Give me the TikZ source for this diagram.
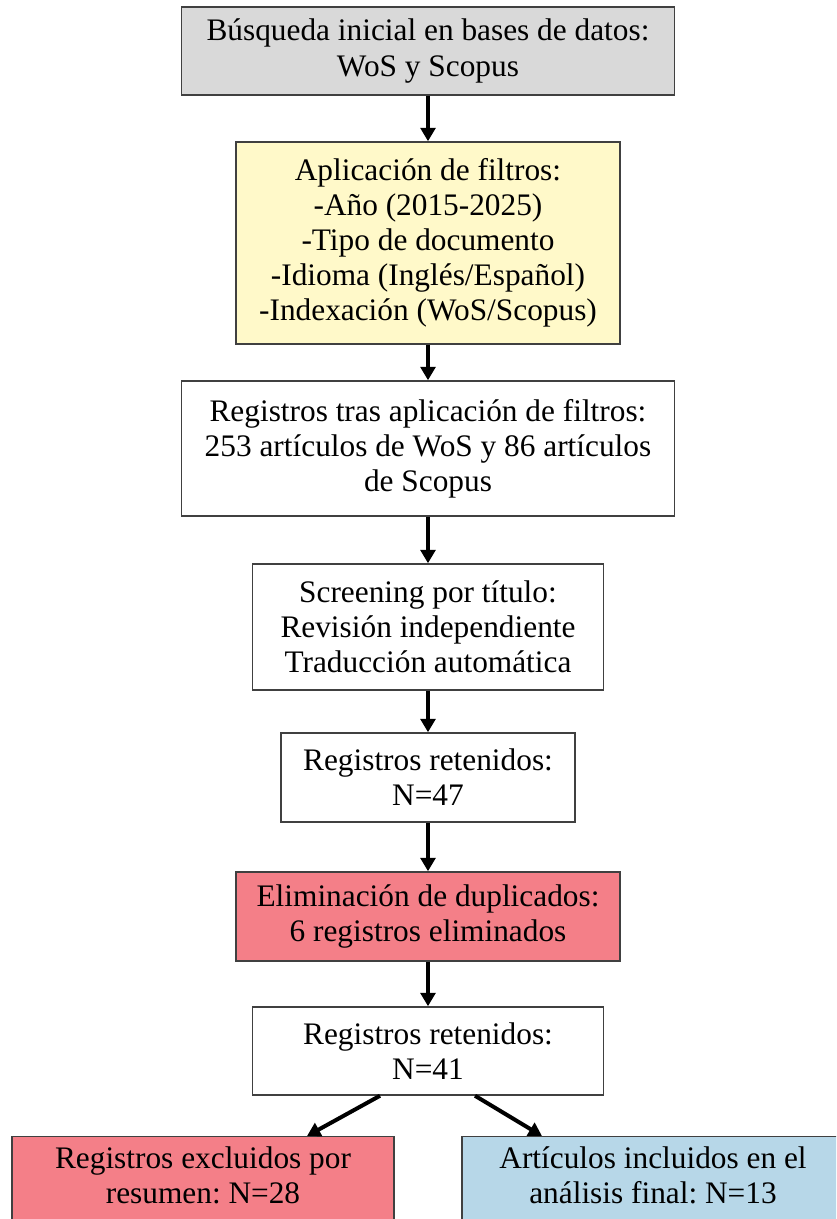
\documentclass[tikz,border=0pt]{standalone}
\usepackage{fontspec}
\setmainfont{Liberation Serif}
\usepackage{xcolor}
\usetikzlibrary{arrows.meta,calc}
\definecolor{boxgray}{HTML}{D9D9D9}
\definecolor{boxyellow}{HTML}{FFF9C9}
\definecolor{boxred}{HTML}{F47F88}
\definecolor{boxblue}{HTML}{B7D7E8}
\definecolor{edgegray}{HTML}{404040}
\frenchspacing
\begin{document}
\begin{tikzpicture}[x=0.75pt,y=-0.75pt,
  stage/.style={draw=edgegray,line width=1.1pt,align=center,inner sep=0pt},
  flow/.style={line width=3pt,-{Triangle[length=10pt,width=11pt]}}]
\fontsize{23.5}{26.3}\selectfont
\useasboundingbox (0,0) rectangle (836,1219);
\clip (0,0) rectangle (836,1219);
%
\node (search) at (428,51) [stage,fill=boxgray,minimum width=369.75pt,minimum height=66pt] {B\'usqueda inicial en bases de datos:\\WoS y Scopus};
\node (filters) at (428,243) [stage,fill=boxyellow,minimum width=288pt,minimum height=151.5pt] {Aplicaci\'on de filtros:\\-A\~no (2015-2025)\\-Tipo de documento\\-Idioma (Ingl\'es/Espa\~nol)\\-Indexaci\'on (WoS/Scopus)};
\node (records) at (428,448.5) [stage,fill=white,minimum width=369.75pt,minimum height=101.25pt] {Registros tras aplicaci\'on de filtros:\\253 art\'iculos de WoS y 86 art\'iculos\\de Scopus};
\node (screen) at (428,627) [stage,fill=white,minimum width=263.25pt,minimum height=94.5pt] {Screening por t\'itulo:\\Revisi\'on independiente\\Traducci\'on autom\'atica};
\node (kept1) at (428,777.5) [stage,fill=white,minimum width=220.5pt,minimum height=66.75pt] {Registros retenidos:\\N=47};
\node (dupl) at (428,916.5) [stage,fill=boxred,minimum width=288pt,minimum height=66.75pt] {Eliminaci\'on de duplicados:\\6 registros eliminados};
\node (kept2) at (428,1051) [stage,fill=white,minimum width=263.25pt,minimum height=66pt] {Registros retenidos:\\N=41};
\node (excluded) at (203,1136) [stage,fill=boxred,anchor=north,minimum width=286.5pt,minimum height=75pt,text depth=18pt] {Registros excluidos por\\resumen: N=28};
\node (included) at (653,1136) [stage,fill=boxblue,anchor=north,minimum width=286.5pt,minimum height=75pt,text depth=18pt] {Art\'iculos incluidos en el\\an\'alisis final: N=13};
%
\draw [flow] (search) -- (filters);
\draw [flow] (filters) -- (records);
\draw [flow] (records) -- (screen);
\draw [flow] (screen) -- (kept1);
\draw [flow] (kept1) -- (dupl);
\draw [flow] (dupl) -- (kept2);
\draw [flow] ($(kept2.south)+(-48,0)$) -- ($(excluded.north)+(104,0)$);
\draw [flow] ($(kept2.south)+(47,0)$) -- ($(included.north)+(-111,0)$);
\end{tikzpicture}
\end{document}
